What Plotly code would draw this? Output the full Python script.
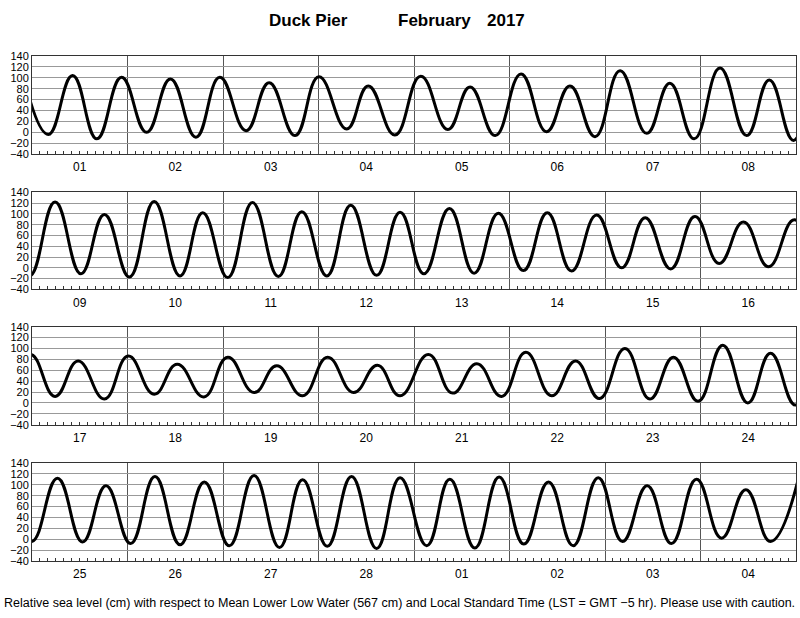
import pandas as pd
import plotly.graph_objects as go

# Tide extremes: hours since 2017-02-01 00:00 LST, and sea level (cm, MLLW)
hours = [
    -2.1, 4.1, 10.2, 16.3, 22.5, 28.8, 34.8, 41.2, 47.2, 53.8, 59.6, 66.1, 72.1, 79.1, 84.5, 91.2,
    97.7, 104.5, 110.1, 116.4, 122.9, 129.3, 135.2, 141.5, 147.8, 154.5, 160.3, 166.4, 172.9, 179.6, 185.3, 191.4,
    197.8, 204.3, 210.2, 216.5, 222.7, 229.2, 234.9, 241.2, 247.4, 253.9, 259.8, 266.1, 272.1, 278.6, 284.5,
    290.5, 296.9, 303.1, 309.2, 315.5, 321.5, 327.6, 333.9, 340.2, 346.1, 352.5, 358.6, 364.7, 370.8, 377.1, 383.6,
    389.8, 395.6, 402.2, 408.2, 414.7, 420.5, 427.2, 433.2, 439.8, 445.5, 452.0, 458.3, 464.8, 470.8, 476.5,
    483.6, 489.7, 495.8, 502.0, 508.1, 514.6, 520.6, 526.6, 533.0, 539.3, 545.2, 551.4, 557.6, 563.9, 569.6, 575.9,
    582.4, 588.7, 594.6, 600.8, 606.9, 613.2, 619.3, 625.6, 631.8, 638.2, 644.0, 650.2, 656.3, 662.6, 668.5,
    675.2, 681.0, 687.3, 693.4, 699.6, 705.8, 712.0, 718.3, 724.4, 730.6, 736.7, 743.0, 749.3, 755.4, 761.6, 768.5,
]
levels = [
    103, -4, 104, -12, 101, 0, 98, -9, 101, 3, 91, -6, 102, 6, 85, -5,
    103, 5, 83, -6, 107, 1, 85, -8, 113, -2, 90, -12, 118, -6, 96, -15,
    122, -11, 99, -17, 123, -15, 102, -18, 121, -16, 104, -15, 116, -14, 103,
    -11, 110, -10, 101, -5, 102, -6, 98, 0, 93, -2, 95, 8, 85, 2, 89,
    12, 77, 7, 86, 16, 71, 11, 84, 19, 68, 13, 84, 19, 69, 13,
    89, 18, 72, 12, 93, 13, 77, 8, 100, 7, 84, 3, 106, 0, 91, -4,
    112, -5, 98, -8, 115, -10, 105, -12, 117, -15, 109, -13, 115, -17, 113,
    -12, 110, -16, 114, -9, 105, -12, 113, -4, 98, -8, 110, 2, 91, -4, 108,
]

panel_starts = ["2017-02-01", "2017-02-09", "2017-02-17", "2017-02-25"]
panel_ends = ["2017-02-09", "2017-02-17", "2017-02-25", "2017-03-05"]
y_ticks = [-40, -20, 0, 20, 40, 60, 80, 100, 120, 140]

title_left = "Duck Pier"
title_month = "February"
title_year = "2017"
footnote = ("Relative sea level (cm) with respect to Mean Lower Low Water (567 cm) and "
            "Local Standard Time (LST = GMT \u22125 hr). Please use with caution.")

times = pd.Timestamp("2017-02-01") + pd.to_timedelta(hours, unit="h")

W, H = 800, 618
ML, MR = 32, 4
# panel pixel extents (top, bottom)
panel_px = [(51, 151), (190, 289), (327, 427), (466, 566)]


def px_x(px):
    return (px - ML) / (W - ML - MR)


fig = go.Figure()
layout = dict(
    width=W, height=H,
    margin=dict(l=ML, r=MR, t=0, b=0),
    paper_bgcolor="white", plot_bgcolor="white",
    showlegend=False,
    font=dict(family="Liberation Sans, Arial, sans-serif", color="black", size=11),
)

for i in range(4):
    sfx = "" if i == 0 else str(i + 1)
    fig.add_trace(go.Scatter(
        x=times, y=levels, mode="lines",
        line=dict(color="black", width=3, shape="spline", smoothing=1.3),
        xaxis="x" + sfx, yaxis="y" + sfx, hoverinfo="skip",
    ))
    top, bot = panel_px[i]
    layout["xaxis" + sfx] = dict(
        type="date", range=[panel_starts[i], panel_ends[i]],
        domain=[0, 1], anchor="y" + sfx,
        dtick=86400000, tick0="2017-02-01", tickformat="%d", ticklabelmode="period",
        ticks="", showgrid=True, gridcolor="#555555", gridwidth=1,
        showline=True, linecolor="#333333", linewidth=1, mirror=True,
        tickfont=dict(size=12), ticklabelstandoff=2,
        minor=dict(dtick=7200000, tick0="2017-02-01", ticks="inside", ticklen=3,
                   tickcolor="#333333", tickwidth=1, showgrid=False),
        zeroline=False, fixedrange=True,
    )
    layout["yaxis" + sfx] = dict(
        range=[-40, 140], tickvals=y_ticks, domain=[1 - bot / H, 1 - top / H],
        anchor="x" + sfx, ticks="", showgrid=True, gridcolor="#999999", gridwidth=1,
        showline=True, linecolor="#333333", linewidth=1, mirror=True,
        zeroline=False, tickfont=dict(size=11), fixedrange=True,
    )

fig.update_layout(**layout)

for txt, cx in [(title_left, 308.5), (title_month, 434), (title_year, 505.5)]:
    fig.add_annotation(text="<b>" + txt + "</b>", x=px_x(cx), y=1 - 15 / H, xref="paper", yref="paper",
                       showarrow=False, xanchor="center", yanchor="middle", font=dict(size=17))
fig.add_annotation(text=footnote, x=px_x(399), y=1 - 609 / H, xref="paper", yref="paper",
                   showarrow=False, xanchor="center", yanchor="middle", font=dict(size=12.5))

fig.write_html("out.html", config={"displayModeBar": False},
               post_script="document.body.style.margin='0';document.body.style.overflow='hidden';")
